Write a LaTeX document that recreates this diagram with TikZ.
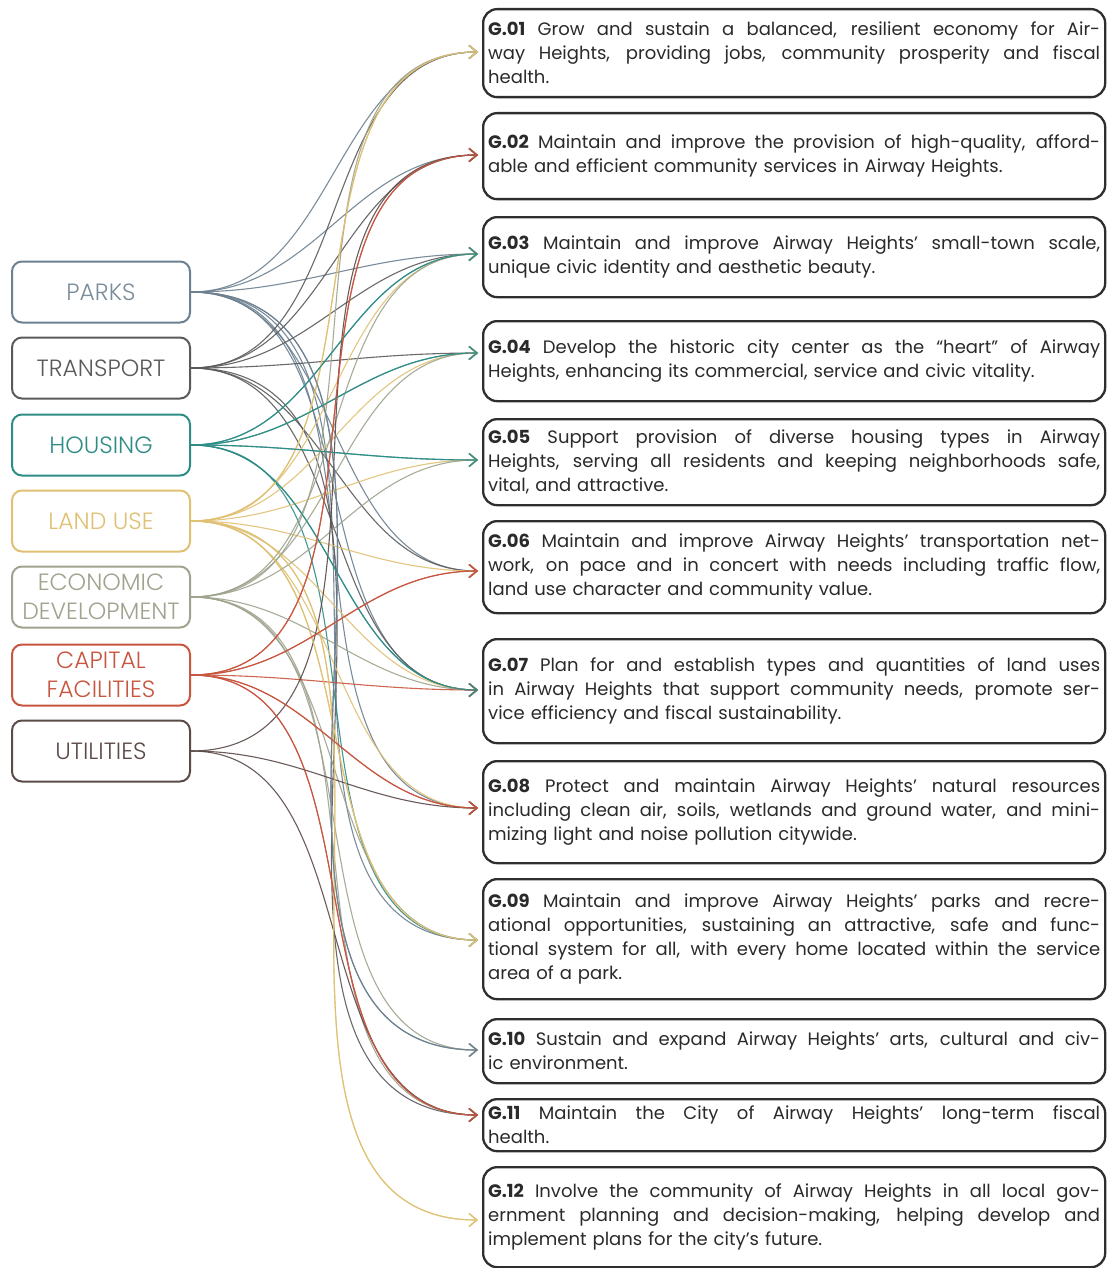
\documentclass[tikz,border=0pt]{standalone}
\usepackage{fontspec}
\setmainfont{Poppins}
\IfFontExistsTF{Poppins Light}{\newfontfamily\srcfont{Poppins Light}}{\newfontfamily\srcfont{Poppins}}
\usetikzlibrary{arrows.meta}
\definecolor{cparks}{HTML}{6C8090}
\definecolor{ctransport}{HTML}{5A5A5A}
\definecolor{chousing}{HTML}{2E8C86}
\definecolor{clanduse}{HTML}{E0C173}
\definecolor{cecon}{HTML}{9EA48E}
\definecolor{ccapital}{HTML}{C8553F}
\definecolor{cutil}{HTML}{5A4A48}
\definecolor{goalline}{HTML}{2E2E2E}
\definecolor{goaltext}{HTML}{2A2A2A}
\newcommand{\gj}[1]{\hbox to\hsize{\spaceskip=0.26em plus 1fil\relax #1}}
\newcommand{\gl}[1]{\hbox to\hsize{#1\hfil}}
\newcommand{\gtext}[1]{\vbox{#1}}
\begin{document}
\begin{tikzpicture}[x=1pt,y=-1pt,
  srcbox/.style={draw, rounded corners=10pt, line width=2pt, minimum width=178pt,
    minimum height=61pt, inner sep=0pt, align=center, font=\srcfont\fontsize{23.5}{29}\selectfont},
  goalbox/.style={draw=goalline, rounded corners=14pt, line width=2.3pt, anchor=north west,
    minimum width=622pt, text width=612pt, inner xsep=5pt, inner ysep=0pt,
    text=goaltext, font=\fontsize{18}{24}\selectfont},
  conn/.style={line width=1.1pt, draw opacity=0.9,
    -{Straight Barb[length=8pt,width=13pt,line width=1.3pt]}}]
\useasboundingbox (0,0) rectangle (1108,1268);
\fill[white] (0,0) rectangle (1108,1268);

% source nodes
\node[srcbox, draw=cparks, text=cparks!90] (parks) at (101,292) {PARKS};
\node[srcbox, draw=ctransport, text=ctransport] (transport) at (101,368) {TRANSPORT};
\node[srcbox, draw=chousing, text=chousing] (housing) at (101,445) {HOUSING};
\node[srcbox, draw=clanduse, text=clanduse] (landuse) at (101,521) {LAND USE};
\node[srcbox, draw=cecon, text=cecon] (econ) at (101,597) {ECONOMIC\\DEVELOPMENT};
\node[srcbox, draw=ccapital, text=ccapital] (capital) at (101,675) {CAPITAL\\FACILITIES};
\node[srcbox, draw=cutil, text=cutil] (util) at (101,751) {UTILITIES};

% goal boxes
\node[goalbox, minimum height=88pt] (g01) at (482,8) {\gtext{%
\gj{\textbf{G.01} Grow and sustain a balanced, resilient economy for Air-}%
\gj{way Heights, providing jobs, community prosperity and fiscal}%
\gl{health.}}};
\node[goalbox, minimum height=86pt] (g02) at (482,112) {\gtext{%
\gj{\textbf{G.02} Maintain and improve the provision of high-quality, afford-}%
\gl{able and efficient community services in Airway Heights.}}};
\node[goalbox, minimum height=80pt] (g03) at (482,216) {\gtext{%
\gj{\textbf{G.03} Maintain and improve Airway Heights’ small-town scale,}%
\gl{unique civic identity and aesthetic beauty.}}};
\node[goalbox, minimum height=80pt] (g04) at (482,320) {\gtext{%
\gj{\textbf{G.04} Develop the historic city center as the “heart” of Airway}%
\gl{Heights, enhancing its commercial, service and civic vitality.}}};
\node[goalbox, minimum height=86pt] (g05) at (482,418) {\gtext{%
\gj{\textbf{G.05} Support provision of diverse housing types in Airway}%
\gj{Heights, serving all residents and keeping neighborhoods safe,}%
\gl{vital, and attractive.}}};
\node[goalbox, minimum height=92pt] (g06) at (482,520) {\gtext{%
\gj{\textbf{G.06} Maintain and improve Airway Heights’ transportation net-}%
\gj{work, on pace and in concert with needs including traffic flow,}%
\gl{land use character and community value.}}};
\node[goalbox, minimum height=104pt] (g07) at (482,638) {\gtext{%
\gj{\textbf{G.07} Plan for and establish types and quantities of land uses}%
\gj{in Airway Heights that support community needs, promote ser-}%
\gl{vice efficiency and fiscal sustainability.}}};
\node[goalbox, minimum height=102pt] (g08) at (482,760) {\gtext{%
\gj{\textbf{G.08} Protect and maintain Airway Heights’ natural resources}%
\gj{including clean air, soils, wetlands and ground water, and mini-}%
\gl{mizing light and noise pollution citywide.}}};
\node[goalbox, minimum height=120pt] (g09) at (482,878) {\gtext{%
\gj{\textbf{G.09} Maintain and improve Airway Heights’ parks and recre-}%
\gj{ational opportunities, sustaining an attractive, safe and func-}%
\gj{tional system for all, with every home located within the service}%
\gl{area of a park.}}};
\node[goalbox, minimum height=64pt] (g10) at (482,1018) {\gtext{%
\gj{\textbf{G.10} Sustain and expand Airway Heights’ arts, cultural and civ-}%
\gl{ic environment.}}};
\node[goalbox, minimum height=52pt] (g11) at (482,1098) {\gtext{%
\gj{\textbf{G.11} Maintain the City of Airway Heights’ long-term fiscal}%
\gl{health.}}};
\node[goalbox, minimum height=100pt] (g12) at (482,1166) {\gtext{%
\gj{\textbf{G.12} Involve the community of Airway Heights in all local gov-}%
\gj{ernment planning and decision-making, helping develop and}%
\gl{implement plans for the city’s future.}}};

% arrow tips
\coordinate (a01) at (478,52);
\coordinate (a02) at (478,155);
\coordinate (a03) at (478,254);
\coordinate (a04) at (478,353);
\coordinate (a05) at (478,460);
\coordinate (a06) at (478,571);
\coordinate (a07) at (478,690);
\coordinate (a08) at (478,808);
\coordinate (a09) at (478,940);
\coordinate (a10) at (478,1050);
\coordinate (a11) at (478,1115);
\coordinate (a12) at (478,1220);

% connectors
\foreach \t in {01,02,03,06,07,08,09,10}
  \draw[conn, cparks] (parks.east) to[out=0,in=180] (a\t);
\foreach \t in {01,02,03,04,06,07,11}
  \draw[conn, ctransport] (transport.east) to[out=0,in=180] (a\t);
\foreach \t in {03,04,05,07,09}
  \draw[conn, chousing] (housing.east) to[out=0,in=180] (a\t);
\foreach \t in {01,03,04,05,06,07,08,09,12}
  \draw[conn, clanduse] (landuse.east) to[out=0,in=180] (a\t);
\foreach \t in {01,03,04,05,07,09,10,11}
  \draw[conn, cecon] (econ.east) to[out=0,in=180] (a\t);
\foreach \t in {02,06,07,08,11}
  \draw[conn, ccapital] (capital.east) to[out=0,in=180] (a\t);
\foreach \t in {02,08,11}
  \draw[conn, cutil] (util.east) to[out=0,in=180] (a\t);

% connectors whose arrowheads show on top
\foreach \t in {01,09,12}
  \draw[conn, clanduse] (landuse.east) to[out=0,in=180] (a\t);
\foreach \t in {03,04,05,07}
  \draw[conn, chousing] (housing.east) to[out=0,in=180] (a\t);
\foreach \t in {02,06,08,11}
  \draw[conn, ccapital] (capital.east) to[out=0,in=180] (a\t);
\draw[conn, cparks] (parks.east) to[out=0,in=180] (a10);
\end{tikzpicture}
\end{document}
